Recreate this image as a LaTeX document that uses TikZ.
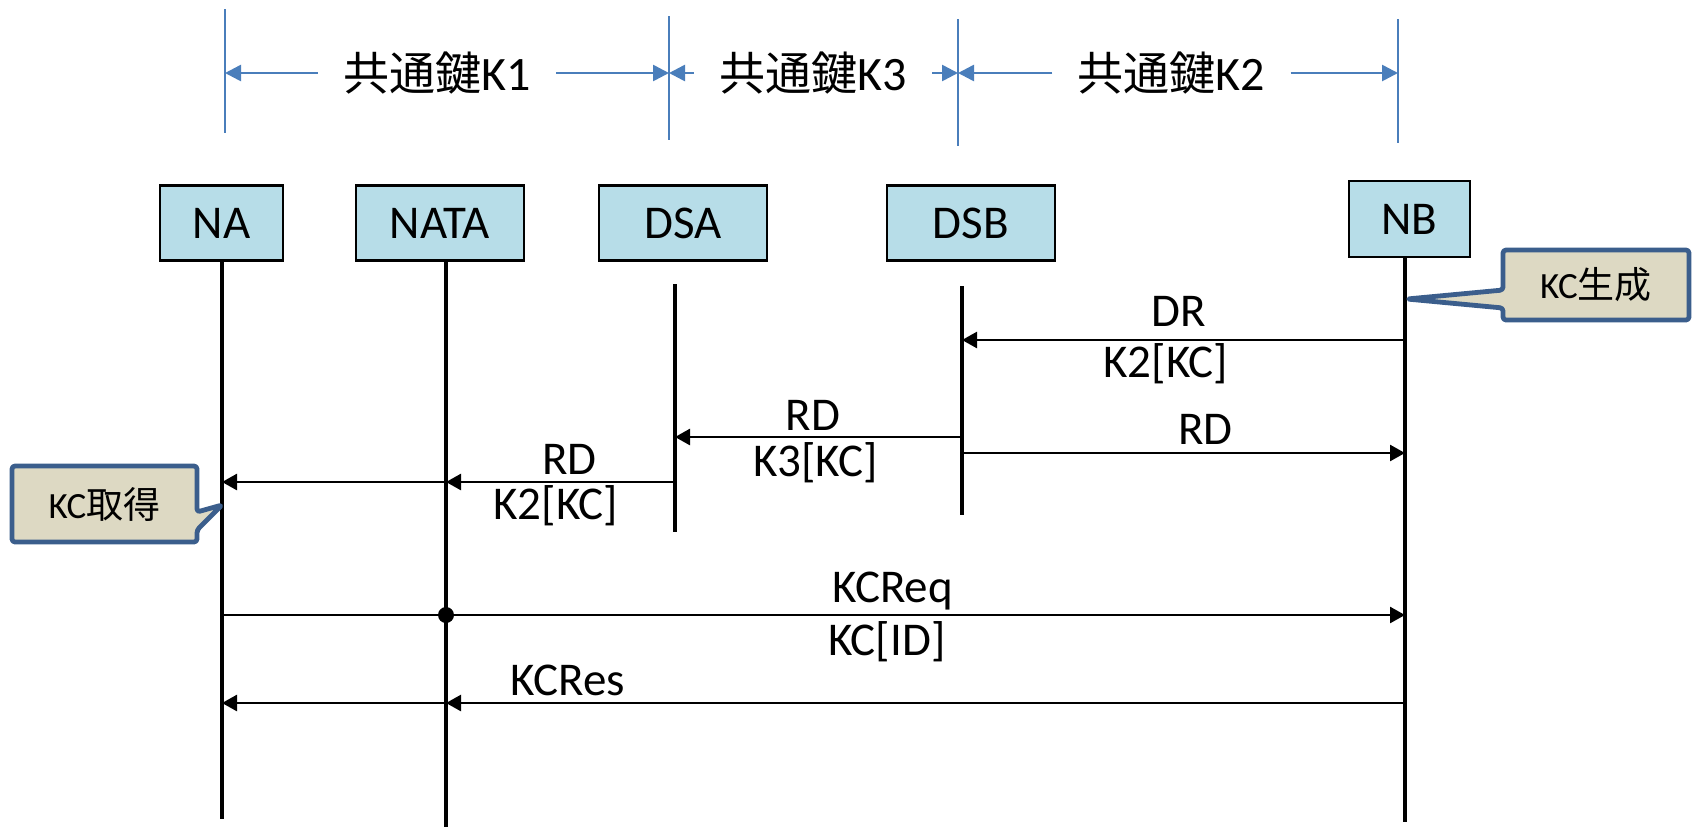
\documentclass[tikz,border=0pt]{standalone}
\usepackage{fontspec}
\setmainfont{Carlito}
\newfontfamily\jp{Noto Sans CJK JP}
\usetikzlibrary{arrows.meta}
\definecolor{boxbg}{HTML}{B7DDE8}
\definecolor{keyblue}{HTML}{4A7EBB}
\definecolor{notebg}{HTML}{DDD9C3}
\definecolor{noteedge}{HTML}{3B5E8C}

\begin{document}
\begin{tikzpicture}[
    x=0.5pt, y=-0.5pt,
    font=\fontsize{23.5}{28}\selectfont,
    head/.style={
        rectangle, draw=black, line width=1.1pt, fill=boxbg,
        minimum width=84pt, minimum height=37.5pt, inner sep=0pt
    },
    life/.style={draw=black, line width=1.6pt},
    msg/.style={-{Triangle[length=7.5pt, width=8pt]}, draw=black, line width=1.3pt},
    lbl/.style={inner sep=0pt},
    dot/.style={circle, fill=black, minimum size=8pt, inner sep=0pt},
    keyline/.style={draw=keyblue, line width=1.3pt},
    keyarr/.style={-{Triangle[length=8pt, width=8pt]}, draw=keyblue, line width=1.3pt},
    keylbl/.style={font=\fontsize{23}{27}\selectfont, inner xsep=12.5pt, inner ysep=0pt},
    note/.style={fill=notebg, draw=noteedge, line width=2.4pt, rounded corners=1.5pt, line join=round},
    notelbl/.style={font=\fontsize{18.5}{22}\selectfont, inner sep=0pt},
]
\path[use as bounding box, fill=white] (0,0) rectangle (1692,827);

% ---------------------------------------------------------------- key ranges
\coordinate (b1t) at (225,9);   \coordinate (b1b) at (225,133);
\coordinate (b2t) at (669,16);  \coordinate (b2b) at (669,140);
\coordinate (b3t) at (958,19);  \coordinate (b3b) at (958,146);
\coordinate (b4t) at (1398,19); \coordinate (b4b) at (1398,143);

\draw [keyline] (b1t) -- (b1b);
\draw [keyline] (b2t) -- (b2b);
\draw [keyline] (b3t) -- (b3b);
\draw [keyline] (b4t) -- (b4b);

\node (k1) [keylbl] at (437,73)    {{\jp 共通鍵}{\fontsize{24}{28}\selectfont K1}};
\node (k3) [keylbl] at (813,73)    {{\jp 共通鍵}{\fontsize{24}{28}\selectfont K3}};
\node (k2) [keylbl] at (1171.5,73) {{\jp 共通鍵}{\fontsize{24}{28}\selectfont K2}};

\draw [keyarr] (k1.west) -- (b1t |- k1.west);
\draw [keyarr] (k1.east) -- (b2t |- k1.east);
\draw [keyarr] (k3.west) -- (b2t |- k3.west);
\draw [keyarr] (k3.east) -- (b3t |- k3.east);
\draw [keyarr] (k2.west) -- (b3t |- k2.west);
\draw [keyarr] (k2.east) -- (b4t |- k2.east);

% ---------------------------------------------------------------- entities
\node (na)   [head, minimum width=61.5pt] at (221.5,223) {NA};
\node (nata) [head]                       at (440,223)   {NATA};
\node (dsa)  [head]                       at (683,223)   {DSA};
\node (dsb)  [head]                       at (971,223)   {DSB};
\node (nb)   [head, minimum width=60.5pt, minimum height=38pt] at (1409.5,219) {NB};

\coordinate (na-top)   at (222,261);  \coordinate (na-bot)   at (222,819);
\coordinate (nata-top) at (446,261);  \coordinate (nata-bot) at (446,827);
\coordinate (dsa-top)  at (675,284);  \coordinate (dsa-bot)  at (675,532);
\coordinate (dsb-top)  at (962,286);  \coordinate (dsb-bot)  at (962,515);
\coordinate (nb-top)   at (1405,257); \coordinate (nb-bot)   at (1405,822);

\draw [life] (na-top)   -- (na-bot);
\draw [life] (nata-top) -- (nata-bot);
\draw [life] (dsa-top)  -- (dsa-bot);
\draw [life] (dsb-top)  -- (dsb-bot);
\draw [life] (nb-top)   -- (nb-bot);

% ---------------------------------------------------------------- messages
\coordinate (r1) at (0,340);
\coordinate (r2) at (0,437);
\coordinate (r3) at (0,453);
\coordinate (r4) at (0,482);
\coordinate (r5) at (0,615);
\coordinate (r6) at (0,703);

\draw [msg] (nb-top |- r1) --
    node[lbl, pos=.51, yshift=14.5pt] (dr)   {DR}
    node[lbl, pos=.54, yshift=-12pt]  (drk)  {K2[KC]} (dsb-top |- r1);
\draw [msg] (dsb-top |- r2) --
    node[lbl, pos=.52, yshift=11pt]   (rd1)  {RD}
    node[lbl, pos=.51, yshift=-13pt]  (rd1k) {K3[KC]} (dsa-top |- r2);
\draw [msg] (dsb-top |- r3) --
    node[lbl, pos=.55, yshift=12pt]   (rd2)  {RD} (nb-top |- r3);
\draw [msg] (dsa-top |- r4) --
    node[lbl, pos=.46, yshift=11.5pt] (rd3)  {RD}
    node[lbl, pos=.52, yshift=-12pt]  (rd3k) {K2[KC]} (nata-top |- r4);
\draw [msg] (nata-top |- r4) -- (na-top |- r4);

\draw [msg] (na-top |- r5) --
    node[lbl, pos=.567, yshift=12pt]   (req)  {KCReq}
    node[lbl, pos=.562, yshift=-13.5pt] (reqk) {KC[ID]} (nb-top |- r5);
\node (tap) [dot] at (nata-top |- r5) {};

\draw [msg] (nb-top |- r6) --
    node[lbl, pos=.873, yshift=11.5pt] (res) {KCRes} (nata-top |- r6);
\draw [msg] (nata-top |- r6) -- (na-top |- r6);

% ---------------------------------------------------------------- notes
\coordinate (gen-tip) at (1407,299);
\coordinate (get-tip) at (222,505);

\draw [note] (1503,250) -- (1689,250) -- (1689,320) -- (1503,320)
    -- (1503,308) -- (gen-tip) -- (1503,290) -- cycle;
\node (kcgen) [notelbl] at (1596,285) {KC{\jp 生成}};

\draw [note] (12,466) -- (197,466) -- (197,512) -- (get-tip)
    -- (197,530) -- (197,542) -- (12,542) -- cycle;
\node (kcget) [notelbl] at (104.5,504) {KC{\jp 取得}};

\end{tikzpicture}
\end{document}
